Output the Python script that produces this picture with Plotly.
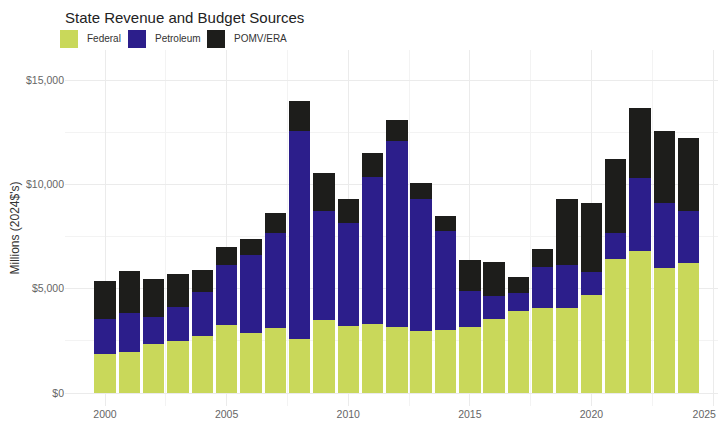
import plotly.graph_objects as go

years = list(range(2000, 2025))
federal = [1890, 1990, 2340, 2500, 2720, 3240, 2880, 3140, 2590, 3520, 3200, 3300, 3170,
           2980, 3010, 3170, 3550, 3910, 4070, 4100, 4700, 6430, 6820, 5990, 6240]
petroleum = [1660, 1850, 1310, 1630, 2110, 2880, 3720, 4510, 9980, 5210, 4930, 7070, 8900,
             6330, 4770, 1730, 1120, 890, 1980, 2020, 1090, 1220, 3490, 3130, 2470]
pomv_era = [1820, 2020, 1840, 1560, 1090, 890, 800, 960, 1410, 1800, 1180, 1120, 1020,
            770, 710, 1470, 1600, 770, 860, 3170, 3330, 3550, 3330, 3430, 3520]

series_names = ["Federal", "Petroleum", "POMV/ERA"]
series_vals = [federal, petroleum, pomv_era]
series_colors = ["#c9d85a", "#2c1e8b", "#1d1d1b"]

x_tickvals = [2000, 2005, 2010, 2015, 2020, 2025]
x_ticktext = ["2000", "2005", "2010", "2015", "2020", "2025\u00a0\u00a0\u00a0\u00a0\u00a0\u00a0"]

# figure geometry (page adds 8px body margin)
W, H = 710, 410
ML, MR, MT, MB = 57, 0, 42, 12
PW, PH = W - ML - MR, H - MT - MB


def px_x(p):
    return (p - ML) / PW


def px_y(p):
    return 1 - (p - MT) / PH


fig = go.Figure()
for name, vals, col in zip(series_names, series_vals, series_colors):
    fig.add_trace(go.Bar(x=years, y=vals, name=name, width=0.88,
                         marker=dict(color=col, line=dict(width=0))))

# legend (manual, to match ggplot key sizes)
legend_sq_left = [52, 120, 199]
legend_txt_left = [77, 145, 224]
shapes, annotations = [], []
for name, col, sx, tx in zip(series_names, series_colors, legend_sq_left, legend_txt_left):
    shapes.append(dict(type="rect", xref="paper", yref="paper",
                       x0=px_x(sx), x1=px_x(sx + 18), y0=px_y(40), y1=px_y(22),
                       fillcolor=col, line=dict(width=0)))
    annotations.append(dict(text=name, xref="paper", yref="paper", x=px_x(tx), y=px_y(31),
                            xanchor="left", yanchor="middle", showarrow=False,
                            font=dict(size=10, color="#333")))

fig.update_layout(
    width=W, height=H,
    barmode="stack",
    plot_bgcolor="white", paper_bgcolor="white",
    font=dict(family="Liberation Sans, Arial, sans-serif", size=10, color="#555"),
    margin=dict(l=ML, r=MR, t=MT, b=MB, autoexpand=False),
    title=dict(text="State Revenue and Budget Sources", x=57 / W, xanchor="left",
               y=1 - 10 / H, yanchor="middle",
               font=dict(size=15, color="#222")),
    showlegend=False,
    shapes=shapes, annotations=annotations,
)
fig.update_xaxes(range=[1998.355, 2025.205], tickmode="array",
                 tickvals=x_tickvals, ticktext=x_ticktext,
                 ticklabeloverflow="allow", automargin=False,
                 showgrid=True, gridcolor="#ebebeb", gridwidth=1, zeroline=False,
                 ticks="", tickfont=dict(size=10.5, color="#666"),
                 minor=dict(tick0=2000, dtick=2.5, showgrid=True, gridcolor="#f3f3f3", gridwidth=0.6))
fig.update_yaxes(range=[-620, 16440], tickvals=[0, 5000, 10000, 15000],
                 ticktext=["$0", "$5,000", "$10,000", "$15,000"],
                 automargin=False,
                 showgrid=True, gridcolor="#ebebeb", gridwidth=1, zeroline=False,
                 ticks="", tickfont=dict(size=10.5, color="#666"),
                 title=dict(text="Millions (2024$'s)", font=dict(size=12, color="#333"), standoff=3),
                 minor=dict(tick0=0, dtick=2500, showgrid=True, gridcolor="#f3f3f3", gridwidth=0.6))

fig.write_html("out.html")
